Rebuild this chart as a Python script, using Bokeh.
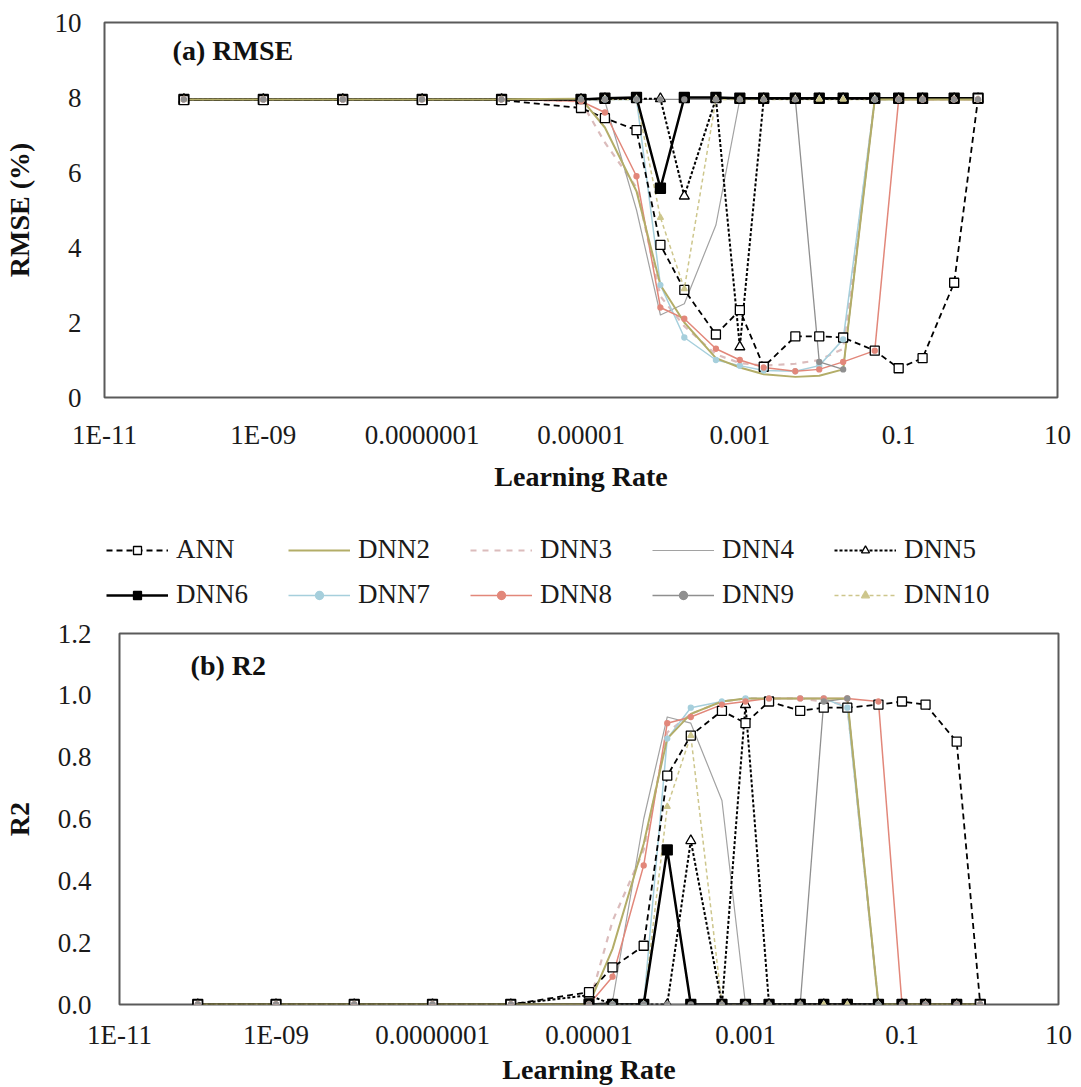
from bokeh.plotting import figure
from bokeh.models import (Legend, LegendItem, FixedTicker, CustomJSTickFormatter,
                          NumeralTickFormatter, Label, Range1d, ColumnDataSource)
from bokeh.layouts import column
from bokeh.embed import file_html
from bokeh.resources import INLINE

# ---------------- data ----------------
learning_rate = [1e-10, 1e-9, 1e-8, 1e-7, 1e-6, 1e-5, 2e-5, 5e-5, 1e-4, 2e-4, 5e-4,
                 1e-3, 2e-3, 5e-3, 1e-2, 2e-2, 5e-2, 0.1, 0.2, 0.5, 1.0]

series_names = ["ANN", "DNN2", "DNN3", "DNN4", "DNN5", "DNN6", "DNN7", "DNN8", "DNN9", "DNN10"]

rmse_ann   = [7.93, 7.93, 7.93, 7.93, 7.93, 7.72, 7.45, 7.13, 4.07, 2.87, 1.68, 2.33, 0.82, 1.63, 1.63, 1.60, 1.25, 0.78, 1.05, 3.06, 7.98]
rmse_dnn2  = [7.95, 7.95, 7.95, 7.95, 7.95, 7.97, 7.20, 5.50, 3.00, 2.00, 1.05, 0.80, 0.62, 0.55, 0.58, 0.75, 7.95, 7.95, 7.95, 7.95, 7.95]
rmse_dnn3  = [7.95, 7.95, 7.95, 7.95, 7.95, 7.90, 6.80, 5.60, 2.70, 1.90, 1.15, 0.92, 0.85, 0.90, 1.00, 1.30, 7.95, 7.95, 7.95, 7.95, 7.95]
rmse_dnn4  = [7.95, 7.95, 7.95, 7.95, 7.95, 7.95, 7.90, 5.00, 2.20, 2.50, 4.60, 7.95, 7.95, 7.95, 7.95, 7.95, 7.95, 7.95, 7.95, 7.95, 7.95]
rmse_dnn5  = [7.95, 7.95, 7.95, 7.95, 7.95, 7.95, 7.97, 7.97, 7.97, 5.37, 7.97, 1.35, 7.97, 7.97, 7.97, 7.97, 7.97, 7.97, 7.97, 7.97, 7.97]
rmse_dnn6  = [7.95, 7.95, 7.95, 7.95, 7.95, 7.95, 7.98, 8.00, 5.58, 8.00, 8.00, 7.98, 7.98, 7.98, 7.98, 7.98, 7.98, 7.98, 7.98, 7.98, 7.98]
rmse_dnn7  = [7.95, 7.95, 7.95, 7.95, 7.95, 7.95, 7.95, 7.95, 3.00, 1.60, 1.00, 0.85, 0.72, 0.70, 0.85, 1.55, 7.95, 7.95, 7.95, 7.95, 7.95]
rmse_dnn8  = [7.95, 7.95, 7.95, 7.95, 7.95, 7.90, 7.60, 5.90, 2.40, 2.10, 1.30, 1.00, 0.80, 0.70, 0.75, 0.95, 1.25, 7.95, 7.95, 7.95, 7.95]
rmse_dnn9  = [7.95, 7.95, 7.95, 7.95, 7.95, 7.95, 7.95, 7.95, 7.95, 7.95, 7.95, 7.95, 7.95, 7.95, 0.95, 0.75, 7.95, 7.95, 7.95, 7.95, 7.95]
rmse_dnn10 = [7.95, 7.95, 7.95, 7.95, 7.95, 7.95, 7.95, 7.95, 4.80, 2.90, 7.95, 7.95, 7.95, 7.95, 7.95, 7.95, 7.95, 7.95, 7.95, 7.95, 7.95]

r2_ann   = [0.0, 0.0, 0.0, 0.0, 0.0, 0.04, 0.12, 0.19, 0.74, 0.87, 0.95, 0.91, 0.98, 0.95, 0.96, 0.96, 0.97, 0.98, 0.97, 0.85, 0.0]
r2_dnn2  = [0.0, 0.0, 0.0, 0.0, 0.0, 0.0, 0.18, 0.52, 0.86, 0.94, 0.98, 0.99, 0.99, 0.99, 0.99, 0.99, 0.0, 0.0, 0.0, 0.0, 0.0]
r2_dnn3  = [0.0, 0.0, 0.0, 0.0, 0.0, 0.0, 0.27, 0.50, 0.88, 0.94, 0.98, 0.99, 0.99, 0.99, 0.98, 0.97, 0.0, 0.0, 0.0, 0.0, 0.0]
r2_dnn4  = [0.0, 0.0, 0.0, 0.0, 0.0, 0.0, 0.01, 0.60, 0.93, 0.91, 0.66, 0.0, 0.0, 0.0, 0.0, 0.0, 0.0, 0.0, 0.0, 0.0, 0.0]
r2_dnn5  = [0.0, 0.0, 0.0, 0.0, 0.0, 0.03, 0.0, 0.0, 0.0, 0.53, 0.0, 0.97, 0.0, 0.0, 0.0, 0.0, 0.0, 0.0, 0.0, 0.0, 0.0]
r2_dnn6  = [0.0, 0.0, 0.0, 0.0, 0.0, 0.0, 0.0, 0.0, 0.50, 0.0, 0.0, 0.0, 0.0, 0.0, 0.0, 0.0, 0.0, 0.0, 0.0, 0.0, 0.0]
r2_dnn7  = [0.0, 0.0, 0.0, 0.0, 0.0, 0.0, 0.0, 0.0, 0.86, 0.96, 0.98, 0.99, 0.99, 0.99, 0.99, 0.96, 0.0, 0.0, 0.0, 0.0, 0.0]
r2_dnn8  = [0.0, 0.0, 0.0, 0.0, 0.0, 0.0, 0.09, 0.45, 0.91, 0.93, 0.97, 0.98, 0.99, 0.99, 0.99, 0.99, 0.98, 0.0, 0.0, 0.0, 0.0]
r2_dnn9  = [0.0, 0.0, 0.0, 0.0, 0.0, 0.0, 0.0, 0.0, 0.0, 0.0, 0.0, 0.0, 0.0, 0.0, 0.98, 0.99, 0.0, 0.0, 0.0, 0.0, 0.0]
r2_dnn10 = [0.0, 0.0, 0.0, 0.0, 0.0, 0.0, 0.0, 0.0, 0.64, 0.87, 0.0, 0.0, 0.0, 0.0, 0.0, 0.0, 0.0, 0.0, 0.0, 0.0, 0.0]

x_tick_values = [1e-11, 1e-9, 1e-7, 1e-5, 1e-3, 0.1, 10]
x_tick_labels = ["1E-11", "1E-09", "0.0000001", "0.00001", "0.001", "0.1", "10"]
x_tick_exponents = [-11, -9, -7, -5, -3, -1, 1]
rmse_ticks = [0, 2, 4, 6, 8, 10]
r2_ticks = [0.0, 0.2, 0.4, 0.6, 0.8, 1.0, 1.2]

rmse_values = [rmse_ann, rmse_dnn2, rmse_dnn3, rmse_dnn4, rmse_dnn5,
               rmse_dnn6, rmse_dnn7, rmse_dnn8, rmse_dnn9, rmse_dnn10]
r2_values = [r2_ann, r2_dnn2, r2_dnn3, r2_dnn4, r2_dnn5,
             r2_dnn6, r2_dnn7, r2_dnn8, r2_dnn9, r2_dnn10]

# ---------------- styles ----------------
FONT = "'Liberation Serif', serif"
TICK_FS = "27px"
LABEL_FS = "28px"
styles = {
    "ANN":   dict(color="black",   width=1.8, dash="6 4", marker="square",   msize=9, mfill="white"),
    "DNN2":  dict(color="#b3ad68", width=2.0, dash="solid", marker=None),
    "DNN3":  dict(color="#dbbcbc", width=2.2, dash="6 6", marker=None),
    "DNN4":  dict(color="#a2a2a2", width=1.2, dash="solid", marker=None),
    "DNN5":  dict(color="black",   width=2.0, dash="3 2", marker="triangle", msize=10, mfill="white"),
    "DNN6":  dict(color="black",   width=2.5, dash="solid", marker="square", msize=10, mfill="black"),
    "DNN7":  dict(color="#a6cfdc", width=1.5, dash="solid", marker="circle", msize=5, mfill="#a6cfdc"),
    "DNN8":  dict(color="#e2877a", width=1.5, dash="solid", marker="circle", msize=5, mfill="#e2877a"),
    "DNN9":  dict(color="#8f8f8f", width=1.3, dash="solid", marker="circle", msize=5, mfill="#8f8f8f"),
    "DNN10": dict(color="#cdc68c", width=1.5, dash="4 3", marker="triangle", msize=6, mfill="#cdc68c"),
}
line_order = ["DNN3", "DNN4", "DNN7", "DNN8", "DNN9", "DNN10", "ANN", "DNN5", "DNN6", "DNN2"]
marker_order = ["DNN6", "DNN5", "ANN", "DNN10", "DNN7", "DNN8", "DNN9"]

tick_formatter = CustomJSTickFormatter(
    args=dict(labels={str(e): s for e, s in zip(x_tick_exponents, x_tick_labels)}),
    code="""
const e = Math.round(Math.log10(tick));
const v = labels[String(e)];
return v === undefined ? "" : v;
""")


def style_axis(ax):
    ax.axis_line_color = None
    ax.major_tick_line_color = None
    ax.minor_tick_line_color = None
    ax.major_tick_in = 0
    ax.major_tick_out = 0
    ax.minor_tick_in = 0
    ax.minor_tick_out = 0
    ax.major_label_text_font = FONT
    ax.major_label_text_font_size = TICK_FS
    ax.major_label_text_color = "#1a1a1a"
    ax.axis_label_text_font = FONT
    ax.axis_label_text_font_style = "bold"
    ax.axis_label_text_font_size = LABEL_FS
    ax.axis_label_text_color = "#111111"


def make_fig(y_end, y_ticks, w, h, mb_left, mb_right, mb_top, mb_bottom,
             ylabel, x_label_standoff, x_axis_label_standoff, y_label_standoff, y_axis_label_standoff):
    p = figure(x_axis_type="log", x_range=Range1d(1e-11, 10), y_range=Range1d(0, y_end),
               width=w, height=h,
               min_border_left=mb_left, min_border_right=mb_right,
               min_border_top=mb_top, min_border_bottom=mb_bottom,
               output_backend="svg", toolbar_location=None)
    p.frame_align = False
    p.grid.visible = False
    p.outline_line_color = "#5a5a5a"
    p.outline_line_width = 2
    style_axis(p.xaxis[0])
    style_axis(p.yaxis[0])
    p.xaxis.ticker = FixedTicker(ticks=x_tick_values)
    p.xaxis.formatter = tick_formatter
    p.xaxis.axis_label = "Learning Rate"
    p.xaxis.major_label_standoff = x_label_standoff
    p.xaxis.axis_label_standoff = x_axis_label_standoff
    p.yaxis.ticker = FixedTicker(ticks=y_ticks)
    p.yaxis.axis_label = ylabel
    p.yaxis.major_label_standoff = y_label_standoff
    p.yaxis.axis_label_standoff = y_axis_label_standoff
    return p


def draw(p, values):
    src = ColumnDataSource({"lr": learning_rate,
                            **{n: v for n, v in zip(series_names, values)}})
    rends = {n: [] for n in series_names}
    for n in line_order:
        st = styles[n]
        r = p.line("lr", n, source=src, line_color=st["color"], line_width=st["width"],
                   line_dash=st["dash"], line_join="round")
        rends[n].append(r)
    for n in marker_order:
        st = styles[n]
        r = p.scatter("lr", n, source=src, marker=st["marker"], size=st["msize"],
                      fill_color=st["mfill"], line_color=st["color"], line_width=1.3)
        rends[n].append(r)
    return rends


W = 1075

# ---------------- top panel ----------------
p1 = make_fig(10, rmse_ticks, W, 520, 104, W - 1057, 22, 123, "RMSE (%)", 22, 8, 23, 17)
draw(p1, rmse_values)
p1.add_layout(Label(x=7.2e-11, y=9.25, text="(a) RMSE", text_font=FONT, text_font_style="bold",
                    text_font_size=LABEL_FS, text_baseline="middle", text_color="#111111"))

# ---------------- legend strip (same series, drawn outside its visible range) ----------------
pl = figure(x_axis_type="log", x_range=Range1d(1e-11, 10), y_range=Range1d(100, 101),
            width=W, height=95, min_border=0, output_backend="svg", toolbar_location=None)
pl.frame_align = False
pl.axis.visible = False
pl.grid.visible = False
pl.outline_line_color = None
rl = draw(pl, rmse_values)
leg_kw = dict(orientation="horizontal", label_text_font=FONT, label_text_font_size="27px",
              label_text_color="#1a1a1a", glyph_width=62, glyph_height=20, label_width=92,
              label_height=30, label_standoff=8, spacing=20, padding=4, margin=0,
              border_line_color=None, background_fill_alpha=0)
leg1 = Legend(items=[LegendItem(label=n, renderers=rl[n]) for n in series_names[:5]],
              location=(106, 50), **leg_kw)
leg2 = Legend(items=[LegendItem(label=n, renderers=rl[n]) for n in series_names[5:]],
              location=(106, 5), **leg_kw)
pl.add_layout(leg1)
pl.add_layout(leg2)

# ---------------- bottom panel ----------------
p2 = make_fig(1.2, r2_ticks, W, 472, 119, W - 1058, 18, 80, "R2", 15, 1, 28, 20)
p2.yaxis.formatter = NumeralTickFormatter(format="0.0")
draw(p2, r2_values)
p2.add_layout(Label(x=8.1e-11, y=1.097, text="(b) R2", text_font=FONT, text_font_style="bold",
                    text_font_size=LABEL_FS, text_baseline="middle", text_color="#111111"))

layout = column(p1, pl, p2, spacing=0)
open("out.html", "w").write(file_html(layout, INLINE))
